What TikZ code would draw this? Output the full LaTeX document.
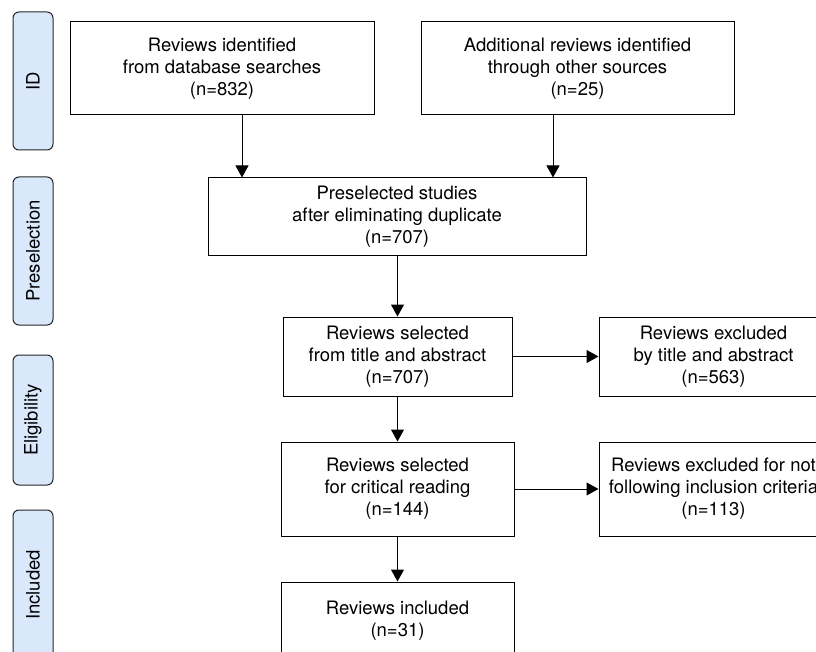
\documentclass[tikz,border=0pt]{standalone}
\usepackage{fontspec}
\setmainfont{TeX Gyre Heros}
\usetikzlibrary{arrows.meta}
\definecolor{fasefill}{HTML}{DAE8FC}

\begin{document}
\begin{tikzpicture}[x=1pt,y=-1pt,
        fase/.style={draw=black!85, fill=fasefill, rounded corners=6pt, line width=1pt,
            rotate=90, minimum height=40pt, inner sep=0pt, font=\fontsize{18.5}{22}\selectfont},
        box/.style={draw, line width=1pt, align=center, inner sep=0pt,
            font=\fontsize{18.5}{22}\selectfont},
        freccia/.style={-{Triangle[length=12pt,width=13pt]}, line width=1pt}]
        % Area del disegno
        \useasboundingbox (0,0) rectangle (816,652);
        \clip (0,0) rectangle (816,652);

        % Fasi a sinistra
        \node[fase, minimum width=138pt] (fid) at (33,81) {ID};
        \node[fase, minimum width=148pt] (fpre) at (33,251) {Preselection};
        \node[fase, minimum width=130pt] (felig) at (33,420) {Eligibility};
        \node[fase, minimum width=150pt] (fincl) at (33,585) {Included};

        % Identificazione
        \node[box, minimum width=304pt, minimum height=93pt] (ident) at (222,68.5)
            {Reviews identified\\from database searches\\(n=832)};
        \node[box, minimum width=313pt, minimum height=93pt] (altre) at (577.5,68.5)
            {Additional reviews identified\\through other sources\\(n=25)};

        % Preselezione
        \node[box, minimum width=378pt, minimum height=78pt] (pre) at (397,217)
            {Preselected studies\\after eliminating duplicate\\(n=707)};

        % Selezione
        \node[box, minimum width=229pt, minimum height=79pt] (sel) at (397.5,356.5)
            {Reviews selected\\from title and abstract\\(n=707)};
        \node[box, minimum width=229pt, minimum height=79pt] (escl) at (713.5,356.5)
            {Reviews excluded\\by title and abstract\\(n=563)};
        \node[box, minimum width=233pt, minimum height=94pt] (lett) at (397.5,489)
            {Reviews selected\\for critical reading\\(n=144)};
        \node[box, minimum width=229pt, minimum height=94pt] (esclb) at (713.5,489)
            {Reviews excluded for not\\following inclusion criteria\\(n=113)};

        % Inclusi
        \node[box, minimum width=233pt, minimum height=78pt] (incl) at (397.5,621)
            {Reviews included\\(n=31)};

        % Frecce
        \coordinate (xa) at (242,0);
        \coordinate (xb) at (553,0);
        \draw[freccia] (ident.south -| xa) -- (pre.north -| xa);
        \draw[freccia] (altre.south -| xb) -- (pre.north -| xb);
        \draw[freccia] (pre.south -| sel) -- (sel.north);
        \draw[freccia] (sel) -- (escl);
        \draw[freccia] (sel) -- (lett);
        \draw[freccia] (lett) -- (esclb);
        \draw[freccia] (lett) -- (incl);
    \end{tikzpicture}
\end{document}
